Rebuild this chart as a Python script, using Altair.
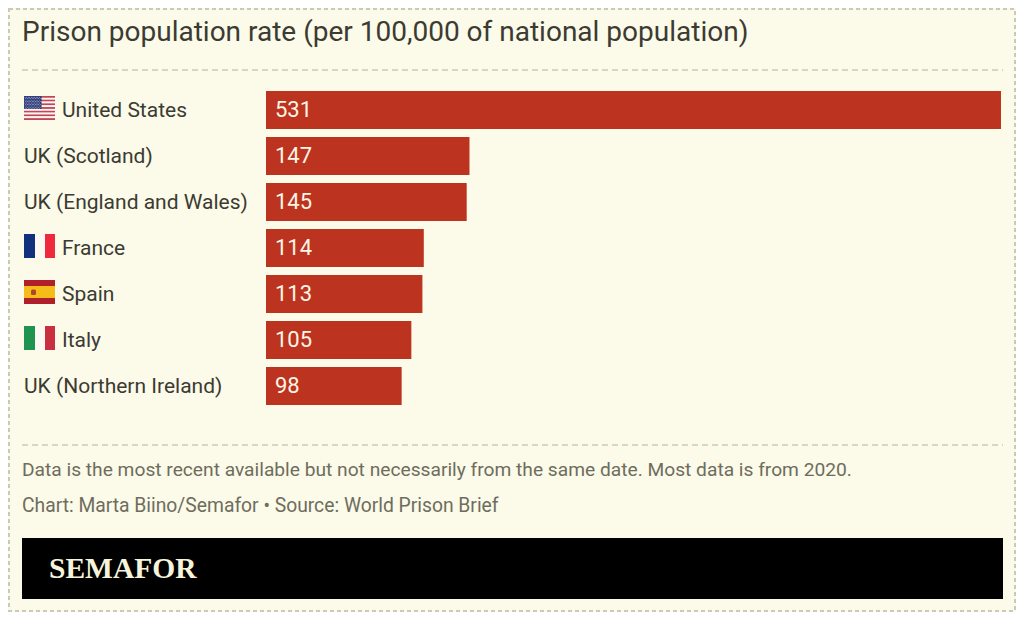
import urllib.parse
import altair as alt
import pandas as pd

# ---- data ----
countries = ["United States", "UK (Scotland)", "UK (England and Wales)", "France", "Spain", "Italy", "UK (Northern Ireland)"]
rates = [531, 147, 145, 114, 113, 105, 98]
flag_names = ["us", "", "", "fr", "es", "it", ""]
title_text = "Prison population rate (per 100,000 of national population)"
note_text = "Data is the most recent available but not necessarily from the same date. Most data is from 2020."
credit_text = "Chart: Marta Biino/Semafor • Source: World Prison Brief"
brand_text = "SEMAFOR"

# ---- style ----
BG = "#fcfae8"
BAR = "#bc3320"
INK = "#3b3b33"
MUTED = "#6d6d5e"
DASH = "#c9c9bc"
SANS = "Roboto"
W, H = 1008, 604  # chart area; the page margin puts its origin at (8, 8)
OFF = 8


def px(v):
    return v - OFF


def svg_url(body):
    svg = f'<svg xmlns="http://www.w3.org/2000/svg" viewBox="0 0 31 24" preserveAspectRatio="none">{body}</svg>'
    return "data:image/svg+xml," + urllib.parse.quote(svg)


us_stripes = "".join(
    f'<rect y="{i * 24 / 13:.2f}" width="31" height="{24 / 13:.2f}" fill="{"#c0445a" if i % 2 == 0 else "#fbf5ee"}"/>'
    for i in range(13)
)
us_stars = "".join(
    f'<circle cx="{1 + c * 1.6 + (r % 2) * 0.8:.1f}" cy="{1.2 + r * 1.45:.2f}" r="0.45" fill="#dfe3ef"/>'
    for r in range(9) for c in range(10)
)
flag_svgs = {
    "us": svg_url(us_stripes + '<rect width="17.5" height="13" fill="#2b3a78"/>' + us_stars),
    "fr": svg_url('<rect width="11" height="24" fill="#12307e"/><rect x="11" width="10" height="24" fill="#fbf9f2"/><rect x="21" width="10" height="24" fill="#ee2a3c"/>'),
    "es": svg_url('<rect width="31" height="24" fill="#b0202a"/><rect y="6" width="31" height="12" fill="#f5bd1a"/><rect x="7" y="9.5" width="5" height="5.5" rx="1.5" fill="#b2442a"/>'),
    "it": svg_url('<rect width="11" height="24" fill="#1f9350"/><rect x="11" width="10" height="24" fill="#fbf9f2"/><rect x="21" width="10" height="24" fill="#c9303f"/>'),
}

df = pd.DataFrame({"country": countries, "rate": rates, "flag": flag_names})
df["has_flag"] = df["flag"] != ""
df["url"] = df["flag"].map(lambda f: flag_svgs.get(f, ""))
one = pd.DataFrame({"k": [0]})

x_scale = alt.Scale(domain=[0, 531], range=[px(266), px(1001)])
y_scale = alt.Scale(domain=countries, range=[px(91), px(405)], paddingInner=8 / 46, paddingOuter=0)
y_n = alt.Y("country:N", scale=y_scale, axis=None, sort=countries)

frame = alt.Chart(one).mark_rect(fillOpacity=0, stroke=DASH, strokeWidth=2, strokeDash=[4, 3]).encode(
    x=alt.value(1), x2=alt.value(W - 1), y=alt.value(1), y2=alt.value(H - 1)
)
bars = alt.Chart(df).mark_bar(color=BAR, cornerRadius=0).encode(x=alt.X("rate:Q", scale=x_scale, axis=None), x2=alt.datum(0), y=y_n)
values = alt.Chart(df).mark_text(align="left", baseline="middle", font=SANS, fontSize=22, color="#fdf6e6", dx=9).encode(
    x=alt.datum(0, scale=x_scale), y=y_n, text="rate:Q"
)
labels_plain = alt.Chart(df).transform_filter("!datum.has_flag").mark_text(
    align="left", baseline="middle", font=SANS, fontSize=21, color=INK, dy=1
).encode(x=alt.value(px(24)), y=y_n, text="country:N")
labels_flag = alt.Chart(df).transform_filter("datum.has_flag").mark_text(
    align="left", baseline="middle", font=SANS, fontSize=21, color=INK, dy=1
).encode(x=alt.value(px(62)), y=y_n, text="country:N")
flags = alt.Chart(df).transform_filter("datum.has_flag").mark_image(width=31, height=24, aspect=False, yOffset=-2).encode(
    x=alt.value(px(39.5)), y=y_n, url="url:N"
)


def txt(s, x, y, **kw):
    return alt.Chart(pd.DataFrame({"t": [s]})).mark_text(align="left", baseline="middle", **kw).encode(
        x=alt.value(px(x)), y=alt.value(px(y)), text="t:N"
    )


def hline(y):
    return alt.Chart(one).mark_rule(color=DASH, strokeWidth=1.5, strokeDash=[6, 4]).encode(
        x=alt.value(px(22)), x2=alt.value(px(1003)), y=alt.value(px(y))
    )


band = alt.Chart(one).mark_rect(color="#000000").encode(
    x=alt.value(px(22)), x2=alt.value(px(1003)), y=alt.value(px(538)), y2=alt.value(px(599))
)

chart = alt.layer(
    frame, hline(70), hline(445), bars, values, labels_plain, labels_flag, flags,
    txt(title_text, 22, 33, font=SANS, fontSize=28, color=INK),
    txt(note_text, 22, 470, font=SANS, fontSize=19.2, color=MUTED),
    txt(credit_text, 22, 506, font=SANS, fontSize=19.3, color=MUTED),
    band,
    txt(brand_text, 49, 569, font="Liberation Serif", fontSize=29.5, fontWeight="bold", color="#f6f4da"),
).resolve_scale(x="shared", y="shared").properties(
    width=W, height=H, background=BG, padding=0,
    autosize=alt.AutoSizeParams(type="none"),
).configure_view(stroke=None)

chart.save("out.html", embed_options={"renderer": "svg", "actions": False})
